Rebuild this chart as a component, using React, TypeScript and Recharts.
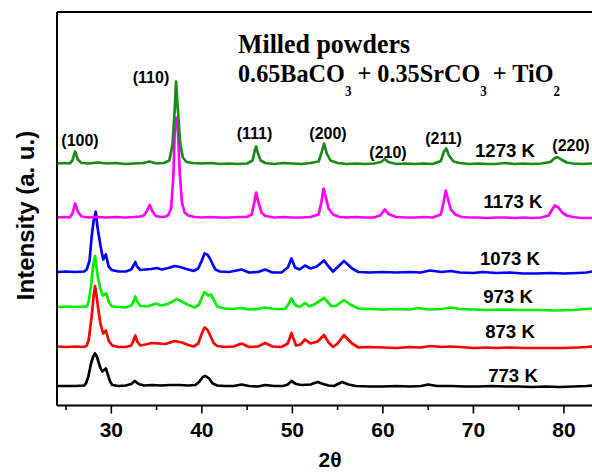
import { LineChart, Line, XAxis, YAxis } from "recharts";

// 2θ (deg) vs. stacked intensity (arbitrary units, offset per temperature)
const P1273: [number, number][] = [
  [24, 242], [24.8, 242.5], [25.4, 242], [25.7, 245], [26.0, 254], [26.3, 246], [26.7, 242.5], [27.5, 242],
  [28.5, 243], [29.5, 242], [30.5, 242.5], [31.5, 241.5], [32.5, 242], [33.5, 242.5], [34.2, 244], [35, 242],
  [35.8, 242.5], [36.4, 245], [36.75, 260], [37.0, 295], [37.15, 324], [37.35, 296], [37.6, 263], [37.9, 248],
  [38.3, 243.5], [39, 242.5], [40, 242], [41, 242.5], [42, 241.5], [43, 242], [44, 241.5], [45, 242],
  [45.6, 245], [45.85, 255], [46.0, 259], [46.2, 252], [46.5, 245], [47, 242.5], [48, 241.5], [49, 242.5],
  [50, 242], [51, 241.5], [52, 242.5], [52.9, 244], [53.2, 252], [53.5, 262], [53.8, 252], [54.2, 245],
  [55, 242.5], [56, 241.5], [57, 242], [58, 241.5], [59, 242], [59.8, 243.5], [60.2, 246.5], [60.6, 243.5],
  [61.5, 241.5], [62.5, 242], [63.5, 241.5], [64.5, 242], [65.5, 241.5], [66.4, 244.5], [66.75, 254], [67.0, 257],
  [67.3, 250], [67.8, 244], [68.5, 242.5], [69.5, 241.5], [70.5, 242], [71.5, 241.5], [72.5, 241.5], [73.5, 242.5],
  [74.5, 241.5], [75.5, 242], [76.5, 241.5], [77.5, 242], [78.5, 243.5], [79.0, 247.5], [79.3, 248.5], [79.7, 246],
  [80.3, 243], [81, 242], [82, 241.5], [83.1, 242],
];

const P1173: [number, number][] = [
  [24, 188], [24.8, 188.5], [25.4, 188], [25.7, 192], [26.0, 202], [26.3, 194], [26.7, 189], [27.5, 188],
  [28.5, 188.5], [29.5, 188], [30.5, 188.5], [31.5, 188], [32.5, 188.5], [33.2, 189], [33.6, 190], [33.95, 195],
  [34.25, 200.5], [34.55, 194], [34.9, 189.5], [35.5, 188.5], [36.0, 189], [36.3, 190.5], [36.6, 197], [36.85, 228],
  [37.0, 272], [37.15, 288], [37.35, 276], [37.55, 234], [37.8, 203], [38.1, 193], [38.5, 190], [39.2, 188.5],
  [40, 188], [41, 188.5], [42, 188], [43, 188], [44, 188.5], [45, 188.5], [45.5, 191], [45.8, 203],
  [46.0, 213], [46.25, 203], [46.6, 193], [47, 189.5], [48, 188], [49, 188.5], [50, 188], [51, 188],
  [52, 188.5], [52.9, 191], [53.2, 203], [53.45, 217], [53.7, 208], [54.0, 197], [54.5, 191], [55.2, 188.5],
  [56, 188], [57, 188.5], [58, 188], [59, 188], [59.7, 190], [60.2, 196], [60.7, 191], [61.5, 188.5],
  [62.5, 188], [63.5, 188], [64.5, 188.5], [65.5, 188], [66.4, 191], [66.7, 203], [66.95, 215], [67.2, 206],
  [67.5, 196], [68, 191], [68.7, 188.5], [69.5, 188], [70.5, 188], [71.5, 187.5], [72.5, 188], [73.5, 188],
  [74.5, 187.5], [75.5, 188], [76.5, 187.5], [77.5, 188], [78.3, 190], [78.7, 196], [79.0, 200], [79.4, 198],
  [79.8, 193], [80.3, 190], [81, 188.5], [82, 187.5], [83.1, 187.5],
];

const P1073: [number, number][] = [
  [24, 133.5], [25, 134], [26, 133.5], [27, 134], [27.28, 136], [27.6, 145], [27.83, 168.8], [28.05, 185],
  [28.28, 193.8], [28.45, 180], [28.6, 171], [28.8, 160], [29.1, 146], [29.4, 151], [29.7, 139], [30.04, 135.5],
  [30.8, 134], [31.6, 134], [32.2, 136], [32.45, 140], [32.65, 143.5], [32.85, 139], [33.2, 135.5], [33.8, 136],
  [34.4, 136.5], [35.0, 137.5], [35.6, 136], [36.3, 137.5], [37.0, 139.5], [37.6, 138.5], [38.3, 136.5], [39.1, 134.5],
  [39.6, 137], [40.0, 145], [40.3, 152], [40.6, 151], [40.9, 147], [41.2, 141], [41.5, 136], [42, 134],
  [43, 133.5], [44.4, 136], [45.2, 133], [46.2, 133.5], [47, 136], [47.8, 133], [48.8, 133], [49.5, 138],
  [49.9, 147], [50.3, 138], [50.8, 136], [51.4, 140], [52.0, 137], [52.7, 139], [53.5, 145], [54.0, 139],
  [54.5, 134], [54.9, 137.5], [55.7, 144.5], [56.6, 137], [57.3, 133.5], [58.5, 133], [60, 133.5], [61.5, 133],
  [63, 133.5], [64.2, 133], [65.2, 135], [66.5, 133.5], [67.5, 134.5], [68.5, 133], [70, 132.5], [71, 133.5],
  [72.5, 132.5], [74, 133], [75.5, 132], [77, 132], [78.5, 132.5], [80, 132], [81.5, 132.5], [82.5, 133],
  [83.1, 134],
];

const P973: [number, number][] = [
  [24, 98.5], [25, 99], [26, 98.5], [27, 99], [27.3, 99], [27.5, 104], [27.75, 119], [28.0, 140],
  [28.2, 149.5], [28.45, 132], [28.75, 118], [29.05, 110], [29.45, 112], [29.75, 103], [30.1, 99], [30.8, 98.5],
  [31.6, 98], [32.2, 100], [32.45, 104], [32.65, 109], [32.85, 104], [33.2, 99.5], [34, 99], [34.9, 102],
  [35.5, 100], [36.2, 101.5], [36.8, 104], [37.2, 106.5], [37.8, 104], [38.5, 100.5], [39.2, 98], [39.7, 101],
  [40.0, 108], [40.3, 113.5], [40.7, 110], [41.0, 111], [41.3, 106], [41.7, 99], [42.5, 97], [43.5, 96.5],
  [44.4, 97.5], [45.2, 96], [46.2, 96.5], [47, 98], [48, 96.5], [49.2, 96.5], [49.55, 101], [49.9, 107],
  [50.3, 100.5], [50.8, 98.5], [51.4, 102.5], [51.9, 99], [52.5, 101.5], [53.5, 107.5], [54.3, 99.5], [54.8, 99.5],
  [55.7, 105.5], [56.4, 101], [57.3, 97], [58.5, 96.5], [60, 96], [61.5, 96.5], [63, 96], [63.9, 97.5],
  [65, 96], [66.5, 96.5], [67.5, 98], [68.5, 96.5], [70, 96], [71.5, 95.5], [73, 96], [75, 95.5],
  [77, 95.5], [79, 95], [81, 95.5], [82.5, 96.5], [83.1, 97],
];

const P873: [number, number][] = [
  [24, 59], [25, 58.5], [26, 59], [27, 58.5], [27.3, 60], [27.5, 65.5], [27.83, 89], [28.05, 110],
  [28.2, 119.5], [28.4, 108], [28.57, 95.5], [28.8, 82], [29.1, 72], [29.4, 75], [29.7, 65], [30.1, 60],
  [30.8, 58.5], [31.6, 58.5], [32.2, 60], [32.45, 65], [32.65, 70], [32.85, 64], [33.2, 60], [33.8, 61],
  [34.5, 62.5], [35.2, 62], [36, 61.5], [37.0, 64.5], [37.8, 63], [38.5, 60.5], [39.1, 59], [39.6, 62],
  [39.95, 71], [40.3, 78], [40.6, 76], [40.9, 70.5], [41.3, 62.5], [41.7, 59.5], [42.5, 58.5], [43.5, 59],
  [44.4, 62], [45.2, 58.5], [46.2, 59], [47, 62.5], [47.8, 59], [48.8, 58.5], [49.5, 62], [49.9, 72.5],
  [50.4, 60], [50.9, 61], [51.4, 66], [52.0, 62], [52.8, 64], [53.5, 70.5], [54.0, 63], [54.5, 58.5],
  [55.0, 62], [55.7, 70.5], [56.6, 62], [57.3, 58], [58.5, 58.5], [60, 58], [61.5, 57.5], [63, 58.5],
  [64.2, 58], [65.2, 59.5], [66.5, 58.5], [67.5, 59], [68.5, 58.5], [70, 57.5], [71.5, 58], [72.5, 57.5],
  [74, 58], [75.5, 57.5], [77, 57.5], [78.5, 57.5], [80, 57.5], [81.5, 58], [82.5, 58.5], [83.1, 59],
];

const P773: [number, number][] = [
  [24, 19.5], [25, 19.5], [26, 19.5], [27, 20], [27.2, 22], [27.46, 29], [27.76, 42], [28.0, 49],
  [28.2, 52], [28.4, 49], [28.57, 44], [28.8, 37.5], [29.0, 34], [29.4, 37], [29.65, 30], [29.86, 24],
  [30.1, 20.5], [30.8, 19.5], [31.6, 20], [32.2, 21.5], [32.6, 24.5], [33.0, 21.5], [33.6, 20], [34.5, 20.5],
  [35.5, 20], [36.5, 20.5], [37.5, 20.5], [38.5, 20], [39.3, 20.5], [39.7, 23.5], [40.1, 28.5], [40.4, 29.5],
  [40.8, 27], [41.2, 22], [41.7, 20], [42.5, 19.5], [43.5, 19.5], [44.4, 21], [45.2, 19.5], [46.2, 19],
  [47, 20.5], [48, 19.5], [49, 19.5], [49.5, 21], [49.9, 24.5], [50.4, 21.5], [51, 20.5], [52, 21],
  [52.8, 23.5], [53.4, 21.5], [54, 20], [54.6, 19.5], [55.5, 23.5], [56.2, 21], [57, 19.5], [58.5, 19],
  [60, 19], [61.5, 19.5], [63, 19], [64.2, 19.5], [65.0, 21], [66, 19.5], [67.5, 19.5], [69, 19],
  [70.5, 19], [72, 19.5], [73.5, 19], [75, 19], [76.5, 18.5], [78, 19], [79.5, 18.5], [81, 19],
  [82.5, 19.5], [83.1, 20],
];

const SERIES = [
  { name: "773 K", color: "#000000", points: P773 },
  { name: "873 K", color: "#ff0000", points: P873 },
  { name: "973 K", color: "#00f000", points: P973 },
  { name: "1073 K", color: "#0000ff", points: P1073 },
  { name: "1173 K", color: "#ff00ff", points: P1173 },
  { name: "1273 K", color: "#178a17", points: P1273 },
];

const X_DOMAIN: [number, number] = [24, 83.1];
const X_TICKS = [25, 30, 35, 40, 45, 50, 55, 60, 65, 70, 75, 80];
const Y_DOMAIN: [number, number] = [0, 393.5];
const Y_TICKS = [12.5, 39.5, 67.5, 94.5, 122.5, 149.5, 176.5, 204.5, 231.5, 258.5, 285.5, 312.5, 338.5, 365.5];

const PEAKS = ["(100)", "(110)", "(111)", "(200)", "(210)", "(211)", "(220)"];
// label anchor points in page pixels
const PEAK_POS = [
  [80, 146], [151, 83], [254.5, 139], [328, 139], [388, 158], [443.5, 144], [571, 151],
];
const TEMP_POS: Record<string, [number, number]> = {
  "1273 K": [505, 157],
  "1173 K": [513, 208],
  "1073 K": [510, 265],
  "973 K": [508, 303],
  "873 K": [510, 338],
  "773 K": [513, 382],
};

const SANS = "'Liberation Sans', Arial, Helvetica, sans-serif";
const SERIF = "'Liberation Serif', 'Times New Roman', serif";

const XTick = (props: any) => {
  const { x, y, payload } = props;
  const major = payload.value % 10 === 0;
  return (
    <g>
      <line x1={x} x2={x} y1={y} y2={y + (major ? 8 : 4.5)} stroke="#000" strokeWidth={1.6} />
      {major && (
        <text x={x} y={y + 31} textAnchor="middle" fontFamily={SANS} fontWeight="bold" fontSize={21} fill="#000">
          {payload.value}
        </text>
      )}
    </g>
  );
};

export default function App() {
  return (
    <div style={{ position: "absolute", left: 0, top: 0, width: 592, height: 473, background: "#fff" }}>
      <LineChart width={592} height={473} margin={{ top: 0, right: 0, bottom: 0, left: 0 }}>
        <XAxis
          dataKey="x"
          type="number"
          domain={X_DOMAIN}
          ticks={X_TICKS}
          interval={0}
          allowDataOverflow
          height={67.5}
          tickSize={0}
          tickMargin={0}
          tickLine={false}
          tick={<XTick />}
          axisLine={{ stroke: "#000", strokeWidth: 2 }}
        />
        <XAxis
          xAxisId="top"
          orientation="top"
          type="number"
          domain={X_DOMAIN}
          ticks={X_TICKS}
          interval={0}
          allowDataOverflow
          height={12}
          tickSize={-4}
          tick={false}
          tickLine={{ stroke: "#000", strokeWidth: 1.5 }}
          axisLine={{ stroke: "#000", strokeWidth: 2 }}
        />
        <YAxis
          type="number"
          domain={Y_DOMAIN}
          ticks={Y_TICKS}
          interval={0}
          allowDataOverflow
          width={57}
          tickSize={-4}
          tick={false}
          tickLine={{ stroke: "#000", strokeWidth: 1.5 }}
          axisLine={{ stroke: "#000", strokeWidth: 2 }}
        />
        {SERIES.map((s) => (
          <Line
            key={s.name}
            data={s.points.map(([x, y]) => ({ x, y }))}
            dataKey="y"
            type="linear"
            stroke={s.color}
            strokeWidth={2.7}
            strokeLinejoin="round"
            dot={false}
            activeDot={false}
            isAnimationActive={false}
          />
        ))}
      </LineChart>
      <svg width={592} height={473} style={{ position: "absolute", left: 0, top: 0, pointerEvents: "none" }}>
        <text x={238} y={53} fontFamily={SERIF} fontWeight="bold" fontSize={27} textLength={172} lengthAdjust="spacingAndGlyphs">
          Milled powders
        </text>
        <text x={238} y={82} fontFamily={SERIF} fontWeight="bold" fontSize={26} textLength={322} lengthAdjust="spacingAndGlyphs">
          0.65BaCO
          <tspan fontSize={14} dy={14}>3</tspan>
          <tspan dy={-14}> + 0.35SrCO</tspan>
          <tspan fontSize={14} dy={14}>3</tspan>
          <tspan dy={-14}> + TiO</tspan>
          <tspan fontSize={14} dy={14}>2</tspan>
        </text>
        {PEAKS.map((p, i) => (
          <text key={p} x={PEAK_POS[i][0]} y={PEAK_POS[i][1]} textAnchor="middle" fontFamily={SANS} fontWeight="bold" fontSize={16}>
            {p}
          </text>
        ))}
        {SERIES.map((s) => (
          <text key={s.name} x={TEMP_POS[s.name][0]} y={TEMP_POS[s.name][1]} textAnchor="middle" fontFamily={SANS} fontWeight="bold" fontSize={18.6}>
            {s.name}
          </text>
        ))}
        <text x={330} y={467} textAnchor="middle" fontFamily={SANS} fontWeight="bold" fontSize={21}>
          2θ
        </text>
        <text
          x={33.5}
          y={215.5}
          textAnchor="middle"
          transform="rotate(-90 33.5 215.5)"
          fontFamily={SANS}
          fontWeight="bold"
          fontSize={24}
        >
          Intensity (a. u.)
        </text>
      </svg>
    </div>
  );
}
